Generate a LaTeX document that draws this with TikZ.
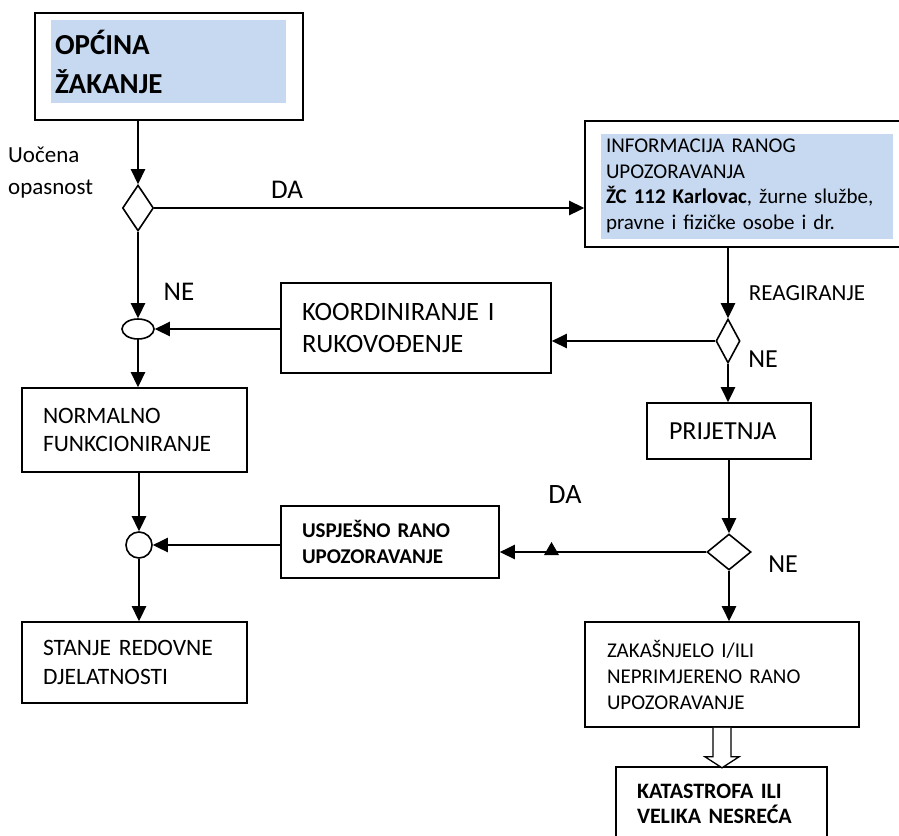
\documentclass[tikz,border=0pt]{standalone}
\usepackage{fontspec}
\setmainfont{Carlito}
\usetikzlibrary{arrows.meta,shapes.geometric}
\definecolor{lblue}{RGB}{198,217,241}
\begin{document}
\begin{tikzpicture}[x=1pt,y=-1pt,
        box/.style={draw,line width=1.6pt,inner ysep=0pt,align=left},
        blue/.style={fill=lblue,inner ysep=0pt,align=left},
        dia/.style={draw,diamond,line width=1.6pt,inner sep=0pt},
        arr/.style={line width=2.6pt,-{Triangle[length=15pt,width=14pt]}},
        lbl/.style={font=\fontsize{27}{28}\selectfont}]
        \useasboundingbox(0,0)rectangle(899,835);
        \node[box,minimum width=268pt,minimum height=107pt](1)at(169,66.5){};
        \node[blue,minimum width=235pt,minimum height=83pt,text width=227pt,inner xsep=4pt,font=\fontsize{29}{39}\selectfont\bfseries](1a)at(168.5,61.5){OPĆINA\\ŽAKANJE};
        \node[dia,minimum width=31pt,minimum height=46pt](2)at(138,208){};
        \node[align=left,anchor=north west,inner sep=0pt,font=\fontsize{23}{32}\selectfont](2a)at(8,147){Uočena\\opasnost};
        \node[box,minimum width=317pt,minimum height=126pt](3)at(743.5,184){};
        \node[blue,minimum width=292pt,minimum height=105pt,text width=282pt,inner xsep=5pt,font=\fontsize{21}{25.5}\selectfont](3a)at(747,186){INFORMACIJA RANOG\\UPOZORAVANJA\\\textbf{ŽC 112 Karlovac}, žurne službe,\\pravne i fizičke osobe i dr.};
        \node[dia,minimum width=24pt,minimum height=44pt](4)at(728,341){};
        \node[box,minimum width=270pt,minimum height=90pt,text width=228pt,inner xsep=21pt,font=\fontsize{26.5}{32}\selectfont](5)at(416,328){KOORDINIRANJE I\\RUKOVOĐENJE};
        \node[draw,ellipse,line width=1.6pt,minimum width=32pt,minimum height=20pt,inner sep=0pt](6)at(138,329){};
        \node[box,minimum width=225pt,minimum height=84pt,text width=183pt,inner xsep=21pt,font=\fontsize{23.5}{28}\selectfont](7)at(134.5,430){NORMALNO\\FUNKCIONIRANJE};
        \node[draw,circle,line width=1.6pt,minimum size=26pt,inner sep=0pt](8)at(139,545){};
        \node[box,minimum width=218pt,minimum height=72pt,text width=176pt,inner xsep=21pt,font=\fontsize{21}{26}\selectfont\bfseries](9)at(390,542){USPJEŠNO RANO\\UPOZORAVANJE};
        \node[box,minimum width=225pt,minimum height=81pt,text width=183pt,inner xsep=21pt,font=\fontsize{23.5}{29}\selectfont](10)at(134.5,662.5){STANJE REDOVNE\\DJELATNOSTI};
        \node[box,minimum width=164pt,minimum height=56pt,text width=120pt,inner xsep=22pt,font=\fontsize{26}{30}\selectfont](11)at(729,431){PRIJETNJA};
        \node[dia,minimum width=44pt,minimum height=36pt](12)at(729,552){};
        \node[box,minimum width=274pt,minimum height=105pt,text width=230pt,inner xsep=22pt,font=\fontsize{21}{26}\selectfont](13)at(722,674.5){ZAKAŠNJELO I/ILI\\NEPRIMJERENO RANO\\UPOZORAVANJE};
        \node[box,minimum width=211pt,minimum height=74pt,text width=169pt,inner xsep=21pt,font=\fontsize{22}{25}\selectfont\bfseries](14)at(721.5,804){KATASTROFA ILI\\VELIKA NESREĆA};
        \node[lbl](da1)at(287,190){DA};
        \node[lbl,font=\fontsize{23}{28}\selectfont](re)at(807,293){REAGIRANJE};
        \node[lbl](ne1)at(179,292){NE};
        \node[lbl,font=\fontsize{26}{28}\selectfont](ne2)at(763,359){NE};
        \node[lbl,font=\fontsize{28}{28}\selectfont](da2)at(565,495){DA};
        \node[lbl,font=\fontsize{26}{28}\selectfont](ne3)at(783,564){NE};
        \draw[arr](2|-1.south)--(2);
        \draw[arr](2)--(2-|3.west);
        \draw[arr](4|-3.south)--(4);
        \draw[arr](4)--(4-|5.east);
        \draw[arr](2)--(6);
        \draw[arr](6-|5.west)--(6);
        \draw[arr](6)--(6|-7.north);
        \draw[arr](8|-7.south)--(8);
        \draw[arr](8-|9.west)--(8);
        \draw[arr](8)--(8|-10.north);
        \draw[arr](4)--(4|-11.north);
        \draw[arr](12|-11.south)--(12);
        \draw[arr](12)--(12-|9.east);
        \fill(544,555)--(559,555)--(551.5,542)--cycle;
        \draw[arr](12)--(12|-13.north);
        \draw[line width=1.3pt,fill=white,shift={(13.south)}](-9,0)--(-9,29)--(-17,29)--(0,40)--(17,29)--(9,29)--(9,0);
    \end{tikzpicture}
\end{document}
